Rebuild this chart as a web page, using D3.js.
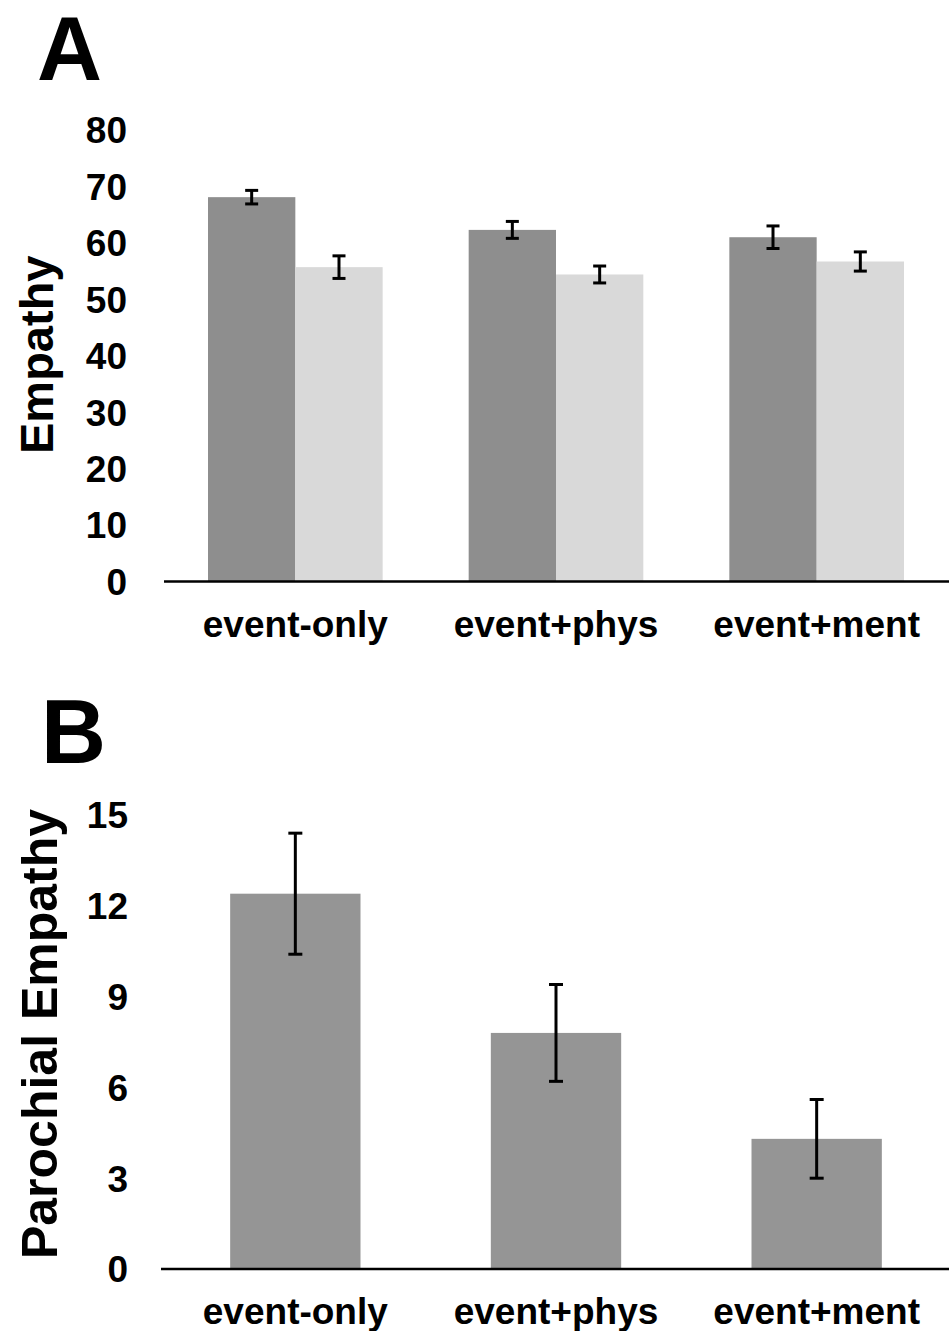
<!DOCTYPE html>
<html>
<head>
<meta charset="utf-8">
<script src="https://cdn.jsdelivr.net/npm/d3@7/dist/d3.min.js"></script>
<style>
  body { margin: 0; background: #fff; }
  text { font-family: "Liberation Sans", Arial, Helvetica, sans-serif; font-weight: bold; fill: #000; }
</style>
</head>
<body>
<div id="chart"></div>
<script>
// data
var categories = ["event-only", "event+phys", "event+ment"];
var empathyDark = [68.1, 62.3, 61.0];
var empathyDarkErr = [1.2, 1.5, 2.0];
var empathyLight = [55.7, 54.4, 56.7];
var empathyLightErr = [2.0, 1.5, 1.7];
var parochial = [12.4, 7.8, 4.3];
var parochialErr = [2.0, 1.6, 1.3];
var ticksA = [0, 10, 20, 30, 40, 50, 60, 70, 80];
var ticksB = [0, 3, 6, 9, 12, 15];

var W = 949, H = 1331;
var svg = d3.select("#chart").append("svg")
    .attr("width", W)
    .attr("height", H);

var x = d3.scaleBand().domain(categories).range([165, 947]).padding(0);

// ---- panel A
var yA = d3.scaleLinear().domain([0, 80]).range([581.5, 130]);
var gA = svg.append("g");

gA.append("text").attr("x", 37).attr("y", 80)
    .style("font-size", "90px").text("A");

gA.selectAll(".tick").data(ticksA).enter().append("text")
    .attr("x", 127).attr("y", d => yA(d))
    .attr("dy", "0.36em")
    .attr("text-anchor", "end")
    .style("font-size", "37px")
    .text(d => d);

gA.append("text")
    .attr("transform", "translate(53," + (yA(40) - 1) + ") rotate(-90)")
    .attr("text-anchor", "middle")
    .style("font-size", "47px")
    .text("Empathy");

var bwA = x.step() * 0.335;
var seriesA = [
    { vals: empathyDark, err: empathyDarkErr, color: "#8e8e8e", off: -bwA },
    { vals: empathyLight, err: empathyLightErr, color: "#d9d9d9", off: 0 }
];
seriesA.forEach(function (s) {
    gA.selectAll(null).data(categories).enter().append("rect")
        .attr("x", (c) => x(c) + x.step() / 2 + s.off)
        .attr("y", (c, i) => yA(s.vals[i]))
        .attr("width", bwA)
        .attr("height", (c, i) => yA(0) - yA(s.vals[i]))
        .attr("fill", s.color);
});
seriesA.forEach(function (s) {
    categories.forEach(function (c, i) {
        var cx = x(c) + x.step() / 2 + s.off + bwA / 2;
        var y1 = yA(s.vals[i] + s.err[i]), y2 = yA(s.vals[i] - s.err[i]);
        var eb = gA.append("g").attr("stroke", "#000").attr("stroke-width", 3);
        eb.append("line").attr("x1", cx).attr("x2", cx).attr("y1", y1).attr("y2", y2);
        eb.append("line").attr("x1", cx - 6.5).attr("x2", cx + 6.5).attr("y1", y1).attr("y2", y1);
        eb.append("line").attr("x1", cx - 6.5).attr("x2", cx + 6.5).attr("y1", y2).attr("y2", y2);
    });
});

gA.append("line").attr("x1", 164).attr("x2", W)
    .attr("y1", yA(0)).attr("y2", yA(0))
    .attr("stroke", "#000").attr("stroke-width", 2.5);

gA.selectAll(".cat").data(categories).enter().append("text")
    .attr("x", c => x(c) + x.step() / 2)
    .attr("y", 637)
    .attr("text-anchor", "middle")
    .style("font-size", "37px")
    .text(c => c);

// ---- panel B
var yB = d3.scaleLinear().domain([0, 15]).range([1269, 815]);
var gB = svg.append("g");

gB.append("text").attr("x", 41).attr("y", 763)
    .style("font-size", "90px").text("B");

gB.selectAll(".tick").data(ticksB).enter().append("text")
    .attr("x", 128).attr("y", d => yB(d))
    .attr("dy", "0.36em")
    .attr("text-anchor", "end")
    .style("font-size", "37px")
    .text(d => d);

gB.append("text")
    .attr("transform", "translate(57," + ((yB(0) + yB(15)) / 2 - 8) + ") rotate(-90)")
    .attr("text-anchor", "middle")
    .style("font-size", "50px")
    .text("Parochial Empathy");

var bwB = x.step() * 0.5;
gB.selectAll(null).data(categories).enter().append("rect")
    .attr("x", c => x(c) + x.step() / 2 - bwB / 2)
    .attr("y", (c, i) => yB(parochial[i]))
    .attr("width", bwB)
    .attr("height", (c, i) => yB(0) - yB(parochial[i]))
    .attr("fill", "#959595");

categories.forEach(function (c, i) {
    var cx = x(c) + x.step() / 2;
    var y1 = yB(parochial[i] + parochialErr[i]), y2 = yB(parochial[i] - parochialErr[i]);
    var eb = gB.append("g").attr("stroke", "#000").attr("stroke-width", 3);
    eb.append("line").attr("x1", cx).attr("x2", cx).attr("y1", y1).attr("y2", y2);
    eb.append("line").attr("x1", cx - 7).attr("x2", cx + 7).attr("y1", y1).attr("y2", y1);
    eb.append("line").attr("x1", cx - 7).attr("x2", cx + 7).attr("y1", y2).attr("y2", y2);
});

gB.append("line").attr("x1", 161).attr("x2", W)
    .attr("y1", yB(0)).attr("y2", yB(0))
    .attr("stroke", "#000").attr("stroke-width", 2.5);

gB.selectAll(".cat").data(categories).enter().append("text")
    .attr("x", c => x(c) + x.step() / 2)
    .attr("y", 1324)
    .attr("text-anchor", "middle")
    .style("font-size", "37px")
    .text(c => c);
</script>
</body>
</html>
